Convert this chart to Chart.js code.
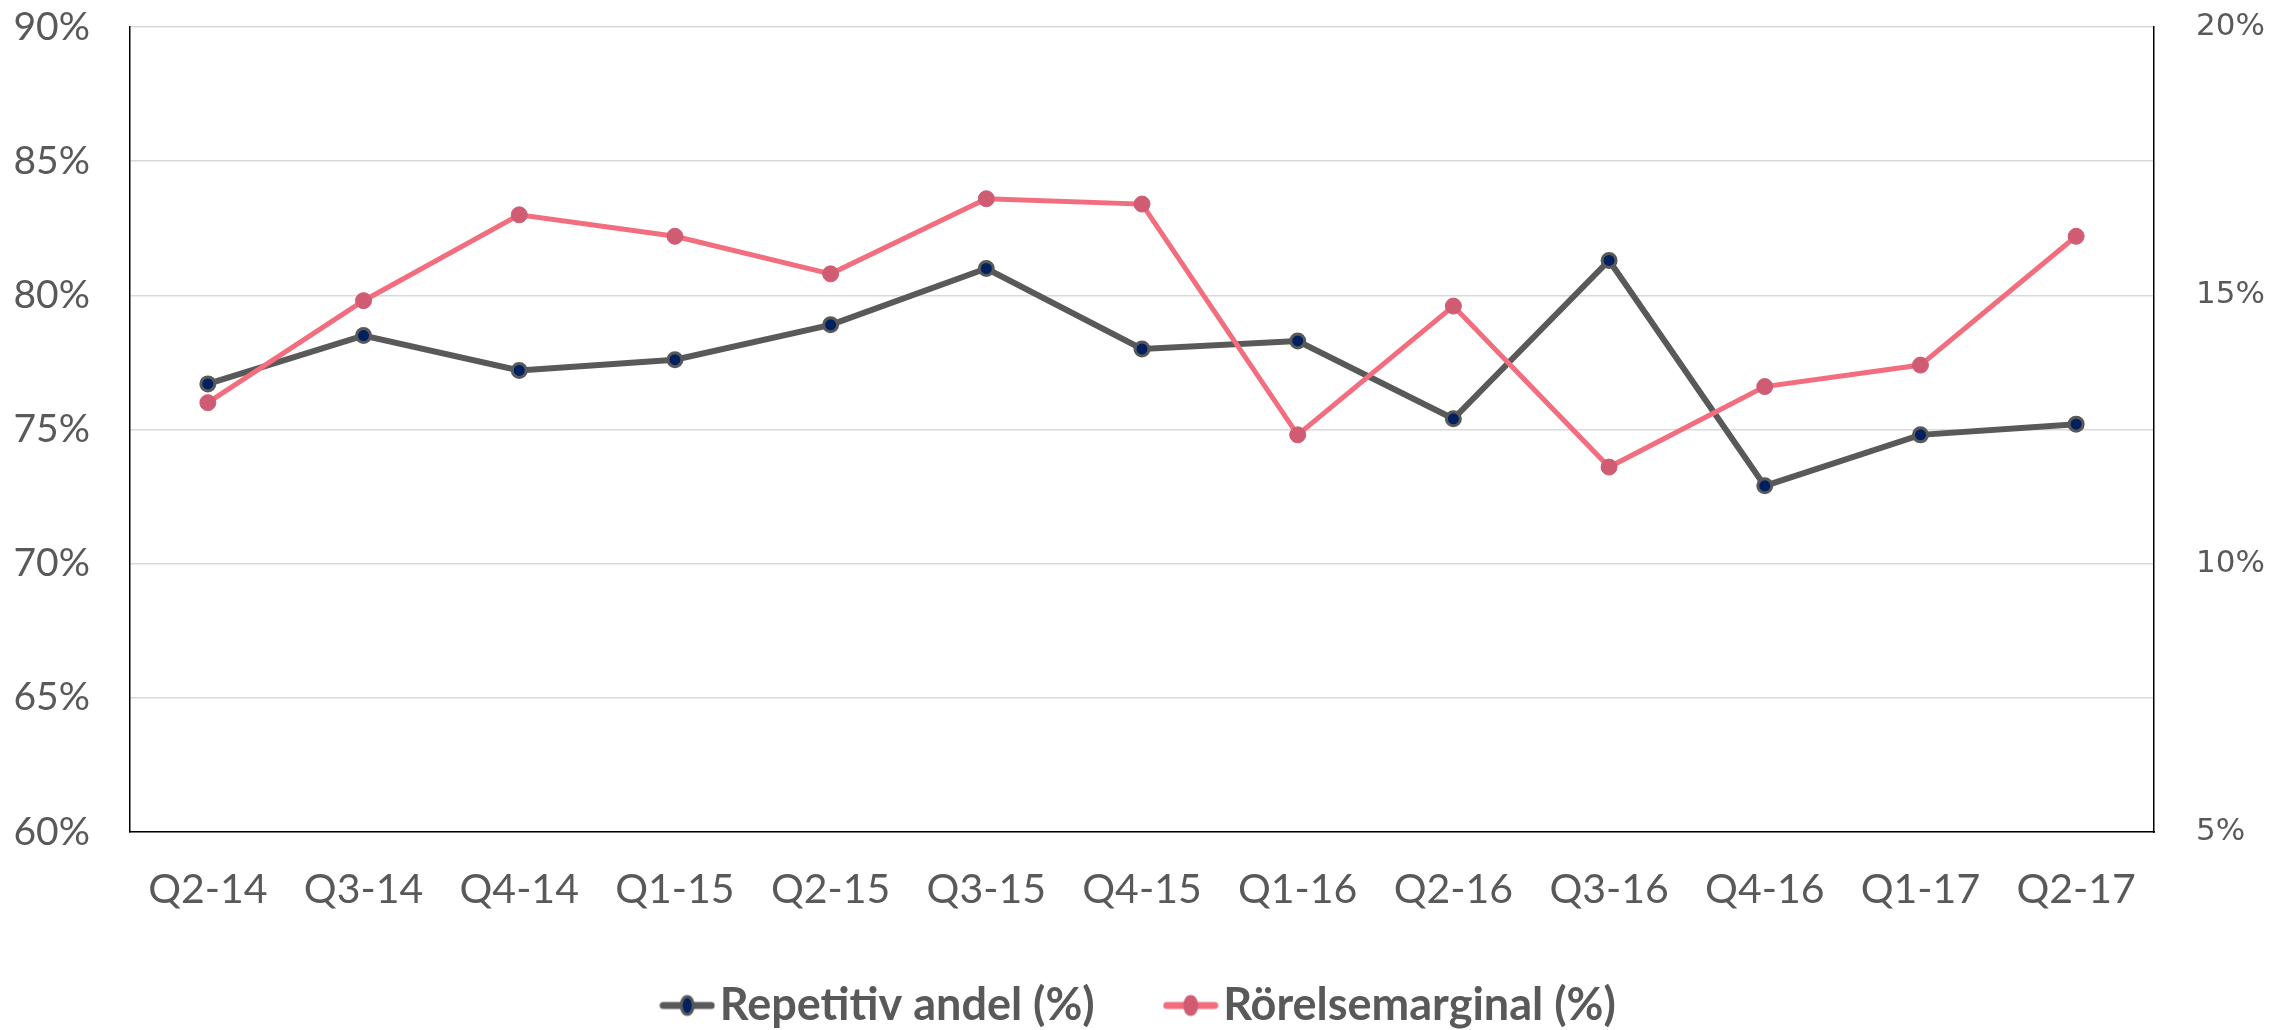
<!DOCTYPE html>
<html>
<head>
<meta charset="utf-8">
<script src="https://cdn.jsdelivr.net/npm/chart.js@4"></script>
<style>
  html, body { margin: 0; padding: 0; background: #fff; }
  #wrap { width: 2293px; height: 1030px; }
</style>
</head>
<body>
<div id="wrap"><canvas id="myChart"></canvas></div>
<script>
var labels = ["Q2-14", "Q3-14", "Q4-14", "Q1-15", "Q2-15", "Q3-15", "Q4-15", "Q1-16", "Q2-16", "Q3-16", "Q4-16", "Q1-17", "Q2-17"];
var repetitivAndel = [76.7, 78.5, 77.2, 77.6, 78.9, 81.0, 78.0, 78.3, 75.4, 81.3, 72.9, 74.8, 75.2];
var rorelsemarginal = [13.0, 14.9, 16.5, 16.1, 15.4, 16.8, 16.7, 12.4, 14.8, 11.8, 13.3, 13.7, 16.1];
var leftTicks = [60, 65, 70, 75, 80, 85, 90];
var rightTicks = [5, 10, 15, 20];

var tickFont = "Lato, 'Open Sans', sans-serif";
var textColor = "#595959";

// legend marker: short line with a dot in the middle, like the Excel legend
function legendIcon(lineColor, dotColor, dotBorder) {
  var c = document.createElement("canvas");
  c.width = 56;
  c.height = 24;
  var g = c.getContext("2d");
  g.strokeStyle = lineColor;
  g.lineWidth = 7;
  g.lineCap = "round";
  g.beginPath();
  g.moveTo(4, 12);
  g.lineTo(52, 12);
  g.stroke();
  g.fillStyle = dotColor;
  g.strokeStyle = dotBorder;
  g.lineWidth = 3;
  g.beginPath();
  g.ellipse(28, 12, 6, 9, 0, 0, Math.PI * 2);
  g.fill();
  g.stroke();
  return c;
}
var icons = [legendIcon("#595959", "#002060", "#595959"), legendIcon("#F26D7D", "#D05C73", "#D05C73")];

function noVPad(scale) {
  scale.paddingTop = 0;
  scale.paddingBottom = 0;
}

// the big label padding spaces the legend items apart but also pushes them down; lift it back
var legendLift = {
  id: "legendLift",
  afterLayout: function (chart) {
    if (chart.legend) {
      chart.legend.top -= 25;
      chart.legend.bottom -= 25;
    }
  },
};

var ctx = document.getElementById("myChart").getContext("2d");
var myChart = new Chart(ctx, {
  type: "line",
  plugins: [legendLift],
  data: {
    labels: labels,
    datasets: [
      {
        label: "Repetitiv andel (%)",
        data: repetitivAndel,
        yAxisID: "y",
        borderColor: "#595959",
        borderWidth: 6,
        pointBackgroundColor: "#002060",
        pointBorderColor: "#595959",
        pointBorderWidth: 3,
        pointRadius: 7,
        tension: 0,
        order: 1,
      },
      {
        label: "Rörelsemarginal (%)",
        data: rorelsemarginal,
        yAxisID: "y1",
        borderColor: "#F26D7D",
        borderWidth: 5,
        pointBackgroundColor: "#D05C73",
        pointBorderColor: "#D05C73",
        pointBorderWidth: 1,
        pointRadius: 8,
        tension: 0,
        order: 0,
      },
    ],
  },
  options: {
    responsive: true,
    maintainAspectRatio: false,
    animation: false,
    layout: {
      padding: { top: 27, right: 0, bottom: -33, left: 0 },
    },
    scales: {
      x: {
        offset: true,
        grid: { display: false, drawTicks: false },
        border: { display: true, color: "#000", width: 1.5 },
        ticks: {
          color: textColor,
          padding: 33,
          maxRotation: 0,
          font: { family: tickFont, size: 41 },
        },
        afterFit: function (scale) {
          scale.height = 90;
          scale.paddingLeft = 0;
          scale.paddingRight = 0;
        },
      },
      y: {
        position: "left",
        min: 60,
        max: 90,
        afterBuildTicks: function (scale) {
          scale.ticks = leftTicks.map(function (v) { return { value: v }; });
        },
        grid: { color: "#D9D9D9", lineWidth: 1.5, drawTicks: false },
        border: { display: true, color: "#000", width: 1.5 },
        ticks: {
          color: textColor,
          padding: 40,
          font: { family: tickFont, size: 39 },
          callback: function (v) { return v + "%"; },
        },
        afterFit: function (scale) {
          scale.width = 130;
          noVPad(scale);
        },
      },
      y1: {
        position: "right",
        min: 5,
        max: 20,
        afterBuildTicks: function (scale) {
          scale.ticks = rightTicks.map(function (v) { return { value: v }; });
        },
        grid: { display: false, drawTicks: false },
        border: { display: true, color: "#000", width: 1.5 },
        ticks: {
          color: textColor,
          padding: 42,
          font: { family: "'DejaVu Sans', sans-serif", size: 31 },
          callback: function (v) { return v + "%"; },
        },
        afterFit: function (scale) {
          scale.width = 139;
          noVPad(scale);
        },
      },
    },
    plugins: {
      tooltip: { enabled: false },
      legend: {
        display: true,
        position: "bottom",
        labels: {
          color: textColor,
          font: { family: tickFont, size: 45, weight: "bold" },
          usePointStyle: true,
          pointStyleWidth: 20,
          padding: 86,
          generateLabels: function (chart) {
            return chart.data.datasets.map(function (ds, i) {
              return {
                text: ds.label,
                pointStyle: icons[i],
                fontColor: textColor,
                datasetIndex: i,
                lineWidth: 0,
                hidden: false,
              };
            });
          },
        },
      },
    },
  },
});
</script>
</body>
</html>
